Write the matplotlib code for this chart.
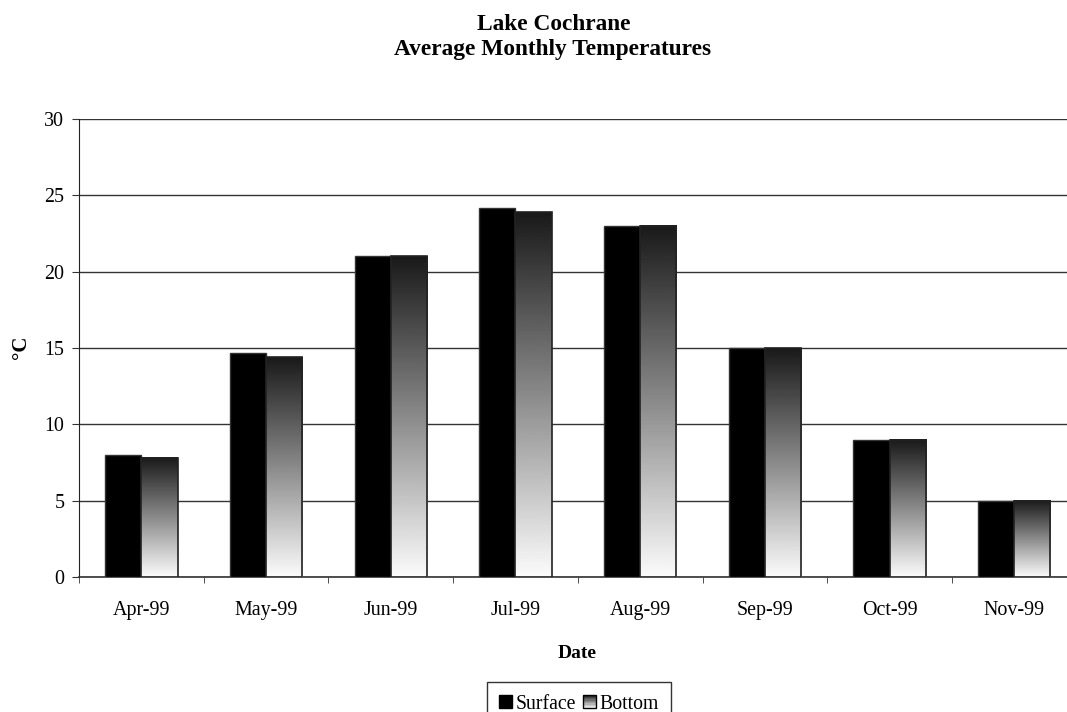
import matplotlib
matplotlib.use("Agg")
import matplotlib.pyplot as plt
import numpy as np
from matplotlib.patches import Rectangle
from matplotlib.legend_handler import HandlerBase

months = ["Apr-99", "May-99", "Jun-99", "Jul-99", "Aug-99", "Sep-99", "Oct-99", "Nov-99"]
surface = [8.0, 14.7, 21.0, 24.2, 23.0, 15.0, 9.0, 5.0]
bottom = [7.8, 14.4, 21.0, 23.9, 23.0, 15.0, 9.0, 5.0]
yticks = [0, 5, 10, 15, 20, 25, 30]

plt.rcParams['font.family'] = ['Liberation Serif', 'DejaVu Serif']

fig = plt.figure(figsize=(10.67, 7.12), dpi=100)
ax = fig.add_axes([79/1067, 1-577/712, 997.6/1067, 458/712])

x = np.arange(len(months))
w = 0.29
ax.bar(x - w/2, surface, width=w, color='black', edgecolor='#333333', linewidth=1, zorder=3)

grad = np.linspace(0.1, 0.985, 256).reshape(-1, 1)  # top dark -> bottom white
for xi, h in zip(x, bottom):
    x0 = xi
    ax.imshow(grad, cmap='gray', vmin=0, vmax=1, extent=[x0, x0 + w, 0, h],
              aspect='auto', origin='upper', zorder=3, interpolation='bilinear')
    ax.add_patch(Rectangle((x0, 0), w, h, fill=False, edgecolor='#222222', linewidth=1.2, zorder=4))

ax.set_xlim(-0.5, len(months) - 0.5)
ax.set_ylim(0, 30)
ax.set_yticks(yticks)
ax.set_yticklabels([str(t) for t in yticks], fontsize=14.4)
ax.set_xticks(x)
ax.set_xticklabels(months, fontsize=14.4)
ax.tick_params(axis='x', length=0, pad=17)
ax.set_xticks(np.arange(len(months) + 1) - 0.5, minor=True)
ax.tick_params(axis='x', which='minor', length=4.3, direction='out', color='#333333')
ax.tick_params(axis='y', length=5, direction='out', color='#333333', pad=5.5)

ax.grid(axis='y', color='#333333', linewidth=1, zorder=0)
ax.set_axisbelow(True)
for s in ['top', 'right']:
    ax.spines[s].set_visible(False)
ax.spines['left'].set_color('#222222')
ax.spines['bottom'].set_color('#333333')
ax.spines['bottom'].set_linewidth(1.2)

fig.text(554/1067, 1-30/712, "Lake Cochrane", ha='center', va='baseline', fontsize=16.8, fontweight='bold')
fig.text(553/1067, 1-55/712, "Average Monthly Temperatures", ha='center', va='baseline', fontsize=16.8, fontweight='bold')
fig.text(577/1067, 1-658/712, "Date", ha='center', va='baseline', fontsize=14, fontweight='bold')
fig.text(21/1067, 1-347/712, "°C", ha='center', va='center', fontsize=15, fontweight='bold', rotation=90)


class GradHandler(HandlerBase):
    def create_artists(self, legend, orig_handle, xdescent, ydescent, width, height, fontsize, trans):
        arts = []
        n = 10
        for i in range(n):
            c = 0.97 - 0.8 * i / (n - 1)
            r = Rectangle((-xdescent, -ydescent + i * height / n), width, height / n,
                          facecolor=(c, c, c), edgecolor='none', transform=trans)
            arts.append(r)
        arts.append(Rectangle((-xdescent, -ydescent), width, height, fill=False,
                              edgecolor='black', linewidth=1, transform=trans))
        return arts


surf_handle = Rectangle((0, 0), 1, 1, facecolor='black', edgecolor='black')
bot_handle = Rectangle((0, 0), 1, 1, facecolor='#aaaaaa', edgecolor='black')
leg = fig.legend([surf_handle, bot_handle], ["Surface", "Bottom"], loc='upper center',
                 bbox_to_anchor=(579/1067, 1-682/712), ncol=2, fontsize=14.2,
                 frameon=True, fancybox=False, edgecolor='black', handlelength=0.65,
                 handleheight=0.65, handletextpad=0.15, columnspacing=0.4,
                 borderpad=0.65, borderaxespad=0,
                 handler_map={bot_handle: GradHandler()})
leg.get_frame().set_linewidth(1)

fig.savefig("out.png", dpi=100)
